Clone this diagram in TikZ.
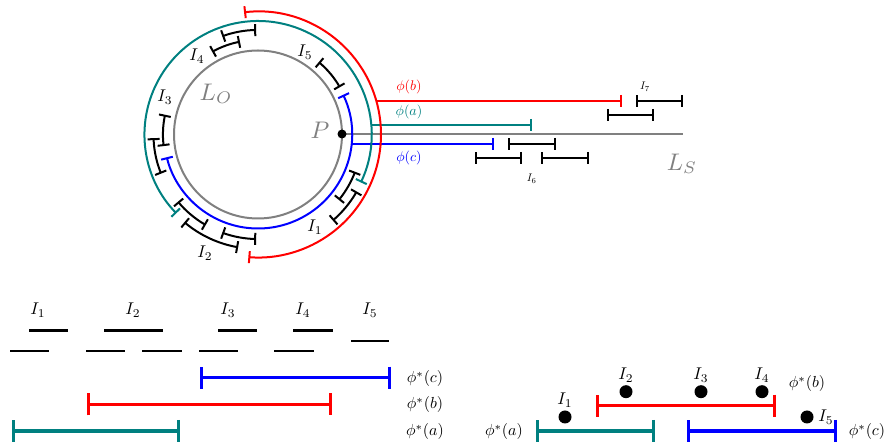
\documentclass[tikz,border=0pt]{standalone}
\usetikzlibrary{arrows.meta,calc}
\definecolor{tealc}{RGB}{0,128,128}
\newcommand{\myscale}[2]{\scalebox{#1}{#2}}
\begin{document}
\begin{tikzpicture}[x=1pt,y=1pt,
  iv/.style={line width=2pt, {Bar[width=12pt]}-{Bar[width=12pt]}},
  ivl/.style={line width=2pt, -{Bar[width=12pt]}},
  seg/.style={line width=2.4pt},
  fat/.style={line width=3.4pt, {Bar[width=22pt]}-{Bar[width=22pt]}},
  lab/.style={inner sep=0pt},
  dot/.style={circle, fill=black, inner sep=0pt, minimum size=13pt}]
\useasboundingbox (0,0) rectangle (887,444);
% ---------------- circle part ----------------
\coordinate (C) at (258,309.5);
\draw[gray, line width=2pt] (C) circle (84);
\coordinate (P) at (342,310);
\coordinate (LSend) at (683,310);
\draw[gray, line width=2pt] (P) -- (LSend);
\fill[black] (P) circle (4.5);
% blue phi(c)
\draw[iv, blue] ($(C)+(25:94)$) arc[start angle=25, end angle=-166, radius=94];
\coordinate (bS) at (351.5,300);
\coordinate (bE) at (493.5,300);
\draw[ivl, blue] (bS) -- (bE);
% teal phi(a)
\draw[iv, tealc] ($(C)+(-25:113.5)$) arc[start angle=-25, end angle=224, radius=113.5];
\coordinate (tS) at (371,319);
\coordinate (tE) at (531.7,319);
\draw[ivl, tealc] (tS) -- (tE);
% red phi(b)
\draw[iv, red] ($(C)+(96.5:123)$) arc[start angle=96.5, end angle=-94.5, radius=123];
\coordinate (rS) at (376.3,343);
\coordinate (rE) at (622,343);
\draw[ivl, red] (rS) -- (rE);
% black interval arcs
\draw[iv] ($(C)+(30:94.5)$) arc[start angle=30, end angle=50, radius=94.5];
\draw[iv] ($(C)+(101:94.5)$) arc[start angle=101, end angle=119, radius=94.5];
\draw[iv] ($(C)+(91:104.5)$) arc[start angle=91, end angle=110, radius=104.5];
\draw[iv] ($(C)+(168:95)$) arc[start angle=168, end angle=187, radius=95];
\draw[iv] ($(C)+(182:104.5)$) arc[start angle=182, end angle=202, radius=104.5];
\draw[iv] ($(C)+(220:104.5)$) arc[start angle=220, end angle=240, radius=104.5];
\draw[iv] ($(C)+(250:104.5)$) arc[start angle=250, end angle=269, radius=104.5];
\draw[iv] ($(C)+(230:114.5)$) arc[start angle=230, end angle=260, radius=114.5];
\draw[iv] ($(C)+(-21:104)$) arc[start angle=-21, end angle=-39, radius=104];
\draw[iv] ($(C)+(-30:114)$) arc[start angle=-30, end angle=-49, radius=114];
% labels on circle
\node[lab] (cI5) at (305,392) {\myscale{1.7}{$I_5$}};
\node[lab] (cI4) at (197,388) {\myscale{1.7}{$I_4$}};
\node[lab] (cI3) at (165,347) {\myscale{1.7}{$I_3$}};
\node[lab] (cI2) at (205,191) {\myscale{1.7}{$I_2$}};
\node[lab] (cI1) at (315,217) {\myscale{1.7}{$I_1$}};
\node[lab, text=gray] (LO) at (216,350) {\myscale{2.4}{$L_O$}};
\node[lab, text=gray] (Pl) at (320,314) {\myscale{2.4}{$P$}};
\node[lab, text=gray] (LS) at (682,280) {\myscale{2.4}{$L_S$}};
\node[lab, text=red] (pb) at (409,356.7) {\myscale{1.4}{$\phi(b)$}};
\node[lab, text=tealc] (pa) at (409,332.3) {\myscale{1.4}{$\phi(a)$}};
\node[lab, text=blue] (pc) at (409,286.3) {\myscale{1.4}{$\phi(c)$}};
% right intervals
\draw[iv] (636,343) -- (683,343);
\draw[iv] (607.3,329) -- (654.3,329);
\draw[iv] (507.7,300) -- (555.7,300);
\draw[iv] (475,286) -- (522.3,286);
\draw[iv] (541,286) -- (589,286);
\node[lab] (I7) at (645,357.5) {\myscale{1.1}{$I_7$}};
\node[lab] (I6) at (531.7,265.5) {\myscale{1.1}{$I_6$}};
% ---------------- bottom left ----------------
\node[lab] (bI1) at (38,134) {\myscale{1.7}{$I_1$}};
\node[lab] (bI2) at (133,134) {\myscale{1.7}{$I_2$}};
\node[lab] (bI3) at (228,134) {\myscale{1.7}{$I_3$}};
\node[lab] (bI4) at (303,134) {\myscale{1.7}{$I_4$}};
\node[lab] (bI5) at (370,134) {\myscale{1.7}{$I_5$}};
\draw[seg] (29,113.3) -- (68,113.3);
\draw[seg] (104,113.3) -- (163,113.3);
\draw[seg] (218,113.3) -- (257,113.3);
\draw[seg] (293,113.3) -- (333,113.3);
\draw[seg] (351,103) -- (389,103);
\draw[seg] (10,92.7) -- (49,92.7);
\draw[seg] (86,92.7) -- (125,92.7);
\draw[seg] (142,92.7) -- (182,92.7);
\draw[seg] (199,92.7) -- (238,92.7);
\draw[seg] (274,92.7) -- (314,92.7);
\draw[fat, blue] (200,66.3) -- (391,66.3);
\draw[fat, red] (87,39.7) -- (332,39.7);
\draw[fat, tealc] (12,13) -- (180,13);
\node[lab] (lc) at (425,65) {\myscale{1.6}{$\phi^*(c)$}};
\node[lab] (lb) at (425,39) {\myscale{1.6}{$\phi^*(b)$}};
\node[lab] (la) at (425,12) {\myscale{1.6}{$\phi^*(a)$}};
% ---------------- bottom right ----------------
\draw[fat, red] (596,38.3) -- (776,38.3);
\draw[fat, tealc] (536,13) -- (655,13);
\draw[fat, blue] (687,13) -- (837,13);
\node[dot] (d1) at (565,27) {};
\node[dot] (d2) at (626,52.3) {};
\node[dot] (d3) at (701,52.3) {};
\node[dot] (d4) at (762,52.3) {};
\node[dot] (d5) at (807,27) {};
\node[lab] (rI1) at (565,44) {\myscale{1.7}{$I_1$}};
\node[lab] (rI2) at (626,69) {\myscale{1.7}{$I_2$}};
\node[lab] (rI3) at (701,69) {\myscale{1.7}{$I_3$}};
\node[lab] (rI4) at (762,69) {\myscale{1.7}{$I_4$}};
\node[lab] (rI5) at (826,27) {\myscale{1.7}{$I_5$}};
\node[lab] (rb) at (807,60) {\myscale{1.6}{$\phi^*(b)$}};
\node[lab] (ra) at (504,12) {\myscale{1.6}{$\phi^*(a)$}};
\node[lab] (rc) at (867,12) {\myscale{1.6}{$\phi^*(c)$}};
\end{tikzpicture}
\end{document}
